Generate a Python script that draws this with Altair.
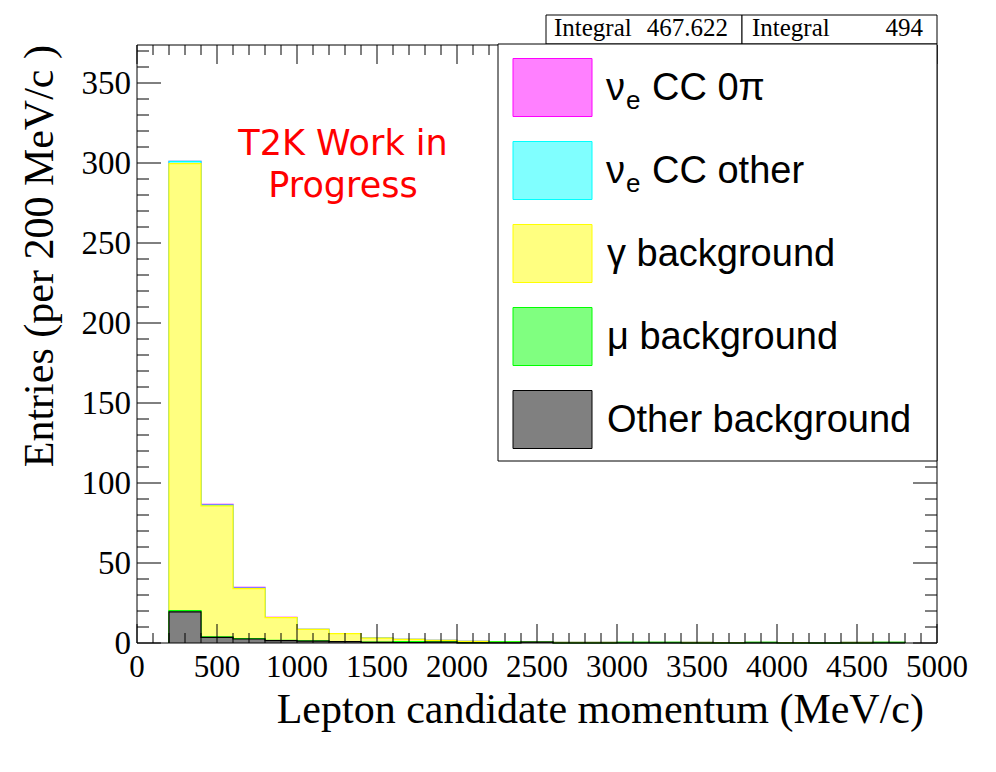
import altair as alt
import pandas as pd

# ---------------- data ----------------
bin_lo = list(range(200, 4800, 200))          # 23 bins of 200 MeV/c
bin_width = 200

comp_labels = ["Other background", "μ background", "γ background", "νe CC other", "νe CC 0π"]
line_colors = ["#000000", "#00ff00", "#ffff00", "#00ffff", "#ff00ff"]
fill_colors = ["#808080", "#80ff80", "#ffff80", "#80ffff", "#ff80ff"]

other   = [19.5, 3.5, 2.5, 1.5, 1.2, 0.8, 0.4, 0.3, 0.6, 0.1, 0.1, 0.6, 0, 0, 0, 0, 0, 0, 0, 0, 0, 0, 0]
mu      = [0.8, 0.3, 0.2, 0.2, 0.1, 0.1, 0.1, 0.5, 0.1, 0.1, 0.6, 0, 0, 0, 0.4, 0.4, 0, 0, 0.4, 0, 0, 0, 0.4]
gamma   = [279.3, 81.9, 31.3, 14.1, 7.2, 4.9, 2.6, 1.5, 1.0, 0.8, 0, 0, 0.4, 0.4, 0, 0, 0.4, 0.3, 0, 0.3, 0, 0.4, 0]
ccother = [1.4, 0.5, 0.3, 0.1, 0, 0, 0, 0, 0, 0, 0, 0, 0, 0, 0, 0, 0, 0, 0, 0, 0, 0, 0]
cc0pi   = [0.0, 0.5, 0.5, 0.1, 0, 0, 0, 0, 0, 0, 0, 0, 0, 0, 0, 0, 0, 0, 0, 0, 0, 0, 0]
comps = [other, mu, gamma, ccother, cc0pi]

x_major = list(range(0, 5001, 500))
x_minor = [v for v in range(0, 5001, 100) if v % 500]
y_major = list(range(0, 351, 50))
y_minor = [v for v in range(0, 374, 10) if v % 50]

stats_labels = ["Integral", "Integral"]
stats_values = ["467.622", "494"]

x_title = "Lepton candidate momentum (MeV/c)"
y_title = "Entries (per 200 MeV/c )"
wip_lines = ["T2K Work in", "Progress"]

# ---------------- geometry ----------------
W, H = 800, 598
SERIF = "Liberation Serif"
SANS = "Liberation Sans"

x_scale = alt.Scale(domain=[0, 5000], nice=False, zero=False)
y_scale = alt.Scale(domain=[0, 373.75], nice=False, zero=False)

rect_rows, line_rows = [], []
for k in range(len(comps)):
    cum = [sum(comps[j][i] for j in range(k + 1)) for i in range(len(bin_lo))]
    for i, lo in enumerate(bin_lo):
        rect_rows.append(dict(comp=k, lo=lo, hi=lo + bin_width, cum=cum[i], zero=0))
    pts = [(bin_lo[0], 0)] + list(zip(bin_lo, cum)) + [(bin_lo[-1] + bin_width, 0)]
    for j, (xv, yv) in enumerate(pts):
        line_rows.append(dict(comp=k, i=j, x=xv, y=yv))
rect_df = pd.DataFrame(rect_rows)
line_df = pd.DataFrame(line_rows)

layers = []

# stacked histogram, drawn ROOT-style: cumulative sums from the total downwards
for k in reversed(range(len(comps))):
    layers.append(
        alt.Chart(rect_df).transform_filter(alt.datum.comp == k).mark_rect(
            fill=fill_colors[k], strokeWidth=0
        ).encode(
            x=alt.X("lo:Q", scale=x_scale, axis=None), x2="hi:Q",
            y=alt.Y("cum:Q", scale=y_scale, axis=None), y2="zero:Q",
        )
    )
    layers.append(
        alt.Chart(line_df).transform_filter(alt.datum.comp == k).mark_line(
            interpolate="step-after", color=line_colors[k], strokeWidth=1.2
        ).encode(
            x=alt.X("x:Q", scale=x_scale, axis=None),
            y=alt.Y("y:Q", scale=y_scale, axis=None),
            order="i:Q",
        )
    )

# ticks on all four sides, pointing inwards
def xticks(vals, length):
    df = pd.DataFrame({"v": vals})
    bot = alt.Chart(df).mark_rule(color="black", strokeWidth=1).encode(
        x=alt.X("v:Q", scale=x_scale, axis=None), y=alt.value(H), y2=alt.value(H - length))
    top = alt.Chart(df).mark_rule(color="black", strokeWidth=1).encode(
        x=alt.X("v:Q", scale=x_scale, axis=None), y=alt.value(0), y2=alt.value(length))
    return [bot, top]

def yticks(vals, length):
    df = pd.DataFrame({"v": vals})
    left = alt.Chart(df).mark_rule(color="black", strokeWidth=1).encode(
        y=alt.Y("v:Q", scale=y_scale, axis=None), x=alt.value(0), x2=alt.value(length))
    right = alt.Chart(df).mark_rule(color="black", strokeWidth=1).encode(
        y=alt.Y("v:Q", scale=y_scale, axis=None), x=alt.value(W), x2=alt.value(W - length))
    return [left, right]

layers += xticks(x_major, 19) + xticks(x_minor, 10) + yticks(y_major, 24) + yticks(y_minor, 12)

# tick labels placed through the same scales
layers.append(
    alt.Chart(pd.DataFrame({"v": x_major})).mark_text(
        font=SERIF, fontSize=31, align="center", baseline="alphabetic", color="black"
    ).encode(x=alt.X("v:Q", scale=x_scale, axis=None), y=alt.value(H + 34), text="v:N")
)
layers.append(
    alt.Chart(pd.DataFrame({"v": y_major})).mark_text(
        font=SERIF, fontSize=33, align="right", baseline="alphabetic", dy=11, color="black"
    ).encode(y=alt.Y("v:Q", scale=y_scale, axis=None), x=alt.value(-6), text="v:N")
)

# frame
layers.append(
    alt.Chart(pd.DataFrame({"f": [0]})).mark_rect(fill=None, stroke="black", strokeWidth=1).encode(
        x=alt.value(0), x2=alt.value(W), y=alt.value(0), y2=alt.value(H))
)

def text_layer(s, x, y, size, font=SANS, color="black", align="left", baseline="alphabetic", angle=0):
    return alt.Chart(pd.DataFrame({"t": [s]})).mark_text(
        font=font, fontSize=size, color=color, align=align, baseline=baseline, angle=angle
    ).encode(text="t:N", x=alt.value(x), y=alt.value(y))

def box_layer(x1, x2, y1, y2, fill="white", stroke="black"):
    return alt.Chart(pd.DataFrame({"b": [0]})).mark_rect(
        fill=fill, stroke=stroke, strokeWidth=1
    ).encode(x=alt.value(x1), x2=alt.value(x2), y=alt.value(y1), y2=alt.value(y2))

# axis titles
layers.append(text_layer(x_title, 787, 678, 42, font=SERIF, align="right"))
layers.append(text_layer(y_title, -84, 0, 42, font=SERIF, align="right", angle=270))

# work-in-progress label
layers.append(text_layer(wip_lines[0], 206, 110, 35, font="DejaVu Sans", color="#ff0000", align="center"))
layers.append(text_layer(wip_lines[1], 206, 152, 35, font="DejaVu Sans", color="#ff0000", align="center"))

# stats boxes
layers.append(box_layer(409, 605, -30, -1))
layers.append(box_layer(605, W, -30, -1))
layers.append(text_layer(stats_labels[0], 417, -9, 25, font=SERIF))
layers.append(text_layer(stats_values[0], 591, -9, 25, font=SERIF, align="right"))
layers.append(text_layer(stats_labels[1], 615, -9, 25, font=SERIF))
layers.append(text_layer(stats_values[1], 786, -9, 25, font=SERIF, align="right"))

# legend
layers.append(box_layer(361, W, -1, 416))
for r, k in enumerate(reversed(range(len(comps)))):
    cy = 42.5 + 83 * r
    layers.append(box_layer(376, 455, cy - 29, cy + 29, fill=fill_colors[k], stroke=line_colors[k]))
    label = comp_labels[k]
    if label.startswith("νe "):
        layers.append(text_layer("ν", 469, cy + 12, 38))
        layers.append(text_layer("e", 489, cy + 21, 26))
        layers.append(text_layer(label[3:], 515, cy + 12, 38))
    else:
        layers.append(text_layer(label, 470, cy + 12, 38))

chart = alt.layer(*layers).properties(
    width=W, height=H,
    autosize=alt.AutoSizeParams(type="none"),
    padding={"left": 129, "top": 37, "right": 51, "bottom": 119},
    background="white",
).configure_view(stroke=None)

chart.save("out.html", embed_options={"renderer": "svg", "actions": False})
